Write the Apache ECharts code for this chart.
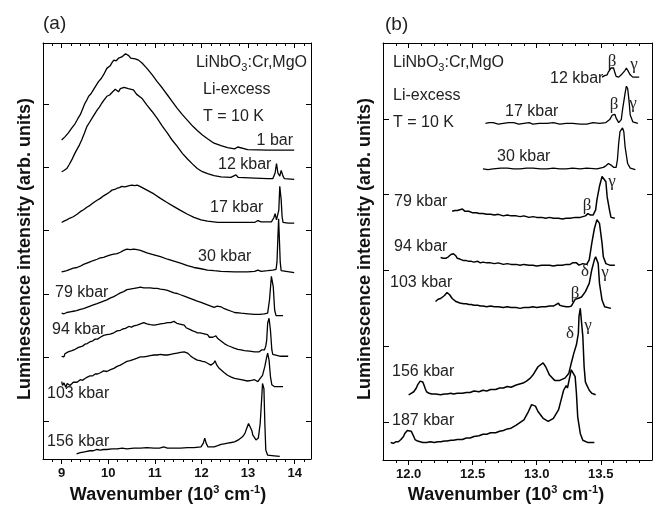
<!DOCTYPE html>
<html>
<head>
<meta charset="utf-8">
<script src="https://cdn.jsdelivr.net/npm/echarts@6/dist/echarts.min.js"></script>
<style>
  html, body { margin: 0; padding: 0; background: #fff; }
  #chart { width: 653px; height: 506px; }
</style>
</head>
<body>
<div id="chart"></div>
<script>
// ---------- Axis ticks ----------
const aMajorX = [9, 10, 11, 12, 13, 14];
const bMajorX = [12.0, 12.5, 13.0, 13.5];
const aTickY = [0.6, 1.6, 2.6, 3.6, 4.6, 5.6];
const bTickY = [0.5, 1.5, 2.5, 3.5, 4.5];

// ---------- Panel (a): broad-band spectra, [wavenumber (10^3 cm^-1), intensity] ----------
const a_1bar = [[9.00,5.03],[9.07,5.08],[9.14,5.14],[9.22,5.22],[9.29,5.29],[9.35,5.37],[9.40,5.43],[9.45,5.52],[9.50,5.61],[9.54,5.66],[9.58,5.72],[9.63,5.76],[9.68,5.82],[9.73,5.88],[9.79,5.95],[9.85,6.00],[9.90,6.06],[9.97,6.16],[10.04,6.20],[10.08,6.25],[10.12,6.29],[10.17,6.28],[10.22,6.32],[10.29,6.34],[10.33,6.35],[10.37,6.39],[10.41,6.37],[10.44,6.36],[10.48,6.32],[10.51,6.30],[10.58,6.31],[10.65,6.29],[10.73,6.24],[10.83,6.16],[10.94,6.06],[11.05,5.95],[11.16,5.85],[11.27,5.74],[11.37,5.64],[11.48,5.53],[11.59,5.43],[11.70,5.34],[11.81,5.25],[11.91,5.18],[12.02,5.11],[12.13,5.05],[12.27,4.98],[12.42,4.94],[12.56,4.91],[12.71,4.89],[12.78,4.92],[12.81,4.89],[12.99,4.88],[13.42,4.87],[13.99,4.87]];
const a_12kbar = [[9.00,4.53],[9.05,4.55],[9.11,4.58],[9.16,4.64],[9.22,4.72],[9.27,4.80],[9.32,4.87],[9.38,4.95],[9.43,5.03],[9.49,5.14],[9.54,5.24],[9.60,5.31],[9.65,5.37],[9.70,5.43],[9.76,5.50],[9.81,5.55],[9.86,5.61],[9.92,5.67],[9.97,5.72],[10.03,5.74],[10.08,5.78],[10.12,5.80],[10.15,5.83],[10.19,5.81],[10.22,5.79],[10.26,5.84],[10.29,5.86],[10.34,5.86],[10.38,5.88],[10.43,5.84],[10.47,5.81],[10.54,5.82],[10.61,5.75],[10.72,5.69],[10.83,5.58],[10.94,5.48],[11.05,5.37],[11.16,5.25],[11.27,5.14],[11.37,5.03],[11.48,4.93],[11.59,4.82],[11.70,4.73],[11.81,4.65],[11.91,4.58],[12.02,4.53],[12.13,4.50],[12.27,4.47],[12.42,4.45],[12.63,4.44],[12.74,4.48],[12.79,4.44],[13.14,4.43],[13.42,4.42],[13.53,4.42],[13.56,4.45],[13.58,4.51],[13.61,4.66],[13.64,4.51],[13.68,4.46],[13.71,4.55],[13.75,4.46],[13.78,4.42],[13.99,4.41]];
const a_17kbar = [[9.00,3.73],[9.05,3.75],[9.11,3.77],[9.18,3.80],[9.25,3.82],[9.33,3.86],[9.40,3.90],[9.47,3.93],[9.54,3.97],[9.61,4.00],[9.68,4.04],[9.76,4.08],[9.83,4.11],[9.90,4.15],[9.97,4.18],[10.03,4.21],[10.08,4.24],[10.14,4.25],[10.19,4.27],[10.24,4.28],[10.29,4.30],[10.35,4.29],[10.40,4.30],[10.45,4.31],[10.51,4.32],[10.57,4.31],[10.62,4.32],[10.68,4.30],[10.73,4.28],[10.83,4.24],[10.98,4.18],[11.12,4.11],[11.27,4.04],[11.41,3.98],[11.55,3.92],[11.70,3.86],[11.84,3.81],[11.99,3.77],[12.13,3.75],[12.35,3.73],[12.67,3.73],[12.71,3.76],[12.74,3.73],[13.14,3.73],[13.21,3.76],[13.28,3.74],[13.50,3.74],[13.55,3.80],[13.58,3.87],[13.61,3.77],[13.64,3.74],[13.66,3.93],[13.68,4.30],[13.70,4.32],[13.71,4.09],[13.73,3.82],[13.75,3.73],[13.86,3.72],[13.99,3.72]];
const a_30kbar = [[9.00,2.95],[9.05,2.96],[9.11,2.97],[9.18,2.99],[9.25,3.01],[9.33,3.02],[9.40,3.04],[9.47,3.07],[9.54,3.09],[9.61,3.11],[9.68,3.13],[9.76,3.15],[9.83,3.17],[9.90,3.18],[9.97,3.20],[10.05,3.22],[10.12,3.23],[10.19,3.24],[10.26,3.26],[10.33,3.29],[10.40,3.31],[10.47,3.30],[10.55,3.31],[10.62,3.30],[10.69,3.29],[10.76,3.27],[10.83,3.25],[10.98,3.22],[11.12,3.19],[11.27,3.15],[11.41,3.12],[11.55,3.09],[11.70,3.05],[11.84,3.02],[11.99,3.00],[12.13,2.98],[12.27,2.97],[12.42,2.96],[12.71,2.95],[12.99,2.95],[13.14,2.96],[13.21,2.98],[13.28,2.96],[13.42,2.97],[13.53,2.98],[13.57,3.01],[13.60,2.99],[13.62,3.10],[13.64,3.50],[13.655,3.79],[13.67,3.50],[13.69,3.10],[13.71,2.97],[13.75,2.94],[13.99,2.94]];
const a_79kbar = [[9.00,2.30],[9.05,2.29],[9.11,2.31],[9.18,2.32],[9.25,2.33],[9.32,2.34],[9.40,2.36],[9.47,2.37],[9.54,2.39],[9.61,2.41],[9.68,2.43],[9.76,2.45],[9.83,2.47],[9.90,2.49],[9.97,2.51],[10.05,2.54],[10.12,2.56],[10.19,2.59],[10.26,2.62],[10.33,2.64],[10.40,2.67],[10.47,2.68],[10.55,2.69],[10.62,2.70],[10.69,2.71],[10.76,2.70],[10.83,2.70],[10.90,2.70],[10.98,2.69],[11.05,2.69],[11.12,2.68],[11.20,2.67],[11.27,2.66],[11.34,2.64],[11.41,2.62],[11.48,2.61],[11.55,2.59],[11.63,2.57],[11.70,2.55],[11.77,2.53],[11.84,2.51],[11.91,2.49],[11.99,2.47],[12.06,2.45],[12.13,2.43],[12.20,2.41],[12.27,2.39],[12.34,2.41],[12.38,2.43],[12.42,2.40],[12.49,2.37],[12.56,2.35],[12.64,2.33],[12.71,2.31],[12.85,2.30],[13.00,2.29],[13.14,2.28],[13.25,2.28],[13.35,2.29],[13.39,2.32],[13.42,2.30],[13.46,2.51],[13.50,2.88],[13.52,2.90],[13.54,2.72],[13.57,2.35],[13.60,2.26],[13.75,2.26]];
const a_94kbar = [[9.00,1.62],[9.03,1.65],[9.05,1.61],[9.07,1.66],[9.11,1.65],[9.14,1.69],[9.18,1.68],[9.22,1.71],[9.25,1.70],[9.29,1.73],[9.33,1.72],[9.36,1.76],[9.40,1.77],[9.45,1.78],[9.50,1.81],[9.55,1.82],[9.61,1.85],[9.66,1.86],[9.72,1.89],[9.77,1.89],[9.83,1.92],[9.90,1.95],[9.97,1.96],[10.04,1.97],[10.12,1.99],[10.19,2.02],[10.26,2.03],[10.31,2.05],[10.37,2.06],[10.44,2.09],[10.50,2.08],[10.55,2.10],[10.62,2.11],[10.69,2.13],[10.76,2.15],[10.83,2.13],[10.90,2.12],[10.98,2.11],[11.05,2.12],[11.12,2.13],[11.20,2.14],[11.27,2.15],[11.34,2.15],[11.41,2.17],[11.47,2.14],[11.52,2.13],[11.58,2.12],[11.63,2.11],[11.67,2.07],[11.70,2.06],[11.76,2.04],[11.81,2.02],[11.86,2.01],[11.91,1.99],[11.97,1.99],[12.02,1.98],[12.08,1.97],[12.13,1.96],[12.17,1.92],[12.20,1.90],[12.24,1.92],[12.27,1.93],[12.31,1.94],[12.35,1.90],[12.38,1.88],[12.44,1.85],[12.49,1.82],[12.56,1.79],[12.63,1.77],[12.70,1.75],[12.78,1.73],[12.85,1.72],[12.92,1.71],[13.03,1.70],[13.14,1.69],[13.24,1.69],[13.29,1.72],[13.32,1.74],[13.35,1.72],[13.38,1.78],[13.40,1.88],[13.42,2.14],[13.45,2.22],[13.48,2.03],[13.51,1.72],[13.53,1.65],[13.55,1.62],[13.70,1.62],[13.86,1.62]];
const a_103kbar = [[9.00,1.22],[9.02,1.16],[9.04,1.15],[9.05,1.20],[9.07,1.19],[9.09,1.13],[9.11,1.14],[9.12,1.19],[9.14,1.20],[9.18,1.16],[9.22,1.18],[9.25,1.21],[9.29,1.22],[9.33,1.21],[9.36,1.24],[9.40,1.25],[9.45,1.24],[9.50,1.27],[9.55,1.29],[9.61,1.31],[9.66,1.31],[9.72,1.34],[9.77,1.34],[9.83,1.36],[9.87,1.35],[9.90,1.39],[9.93,1.37],[9.97,1.38],[10.05,1.41],[10.12,1.43],[10.19,1.46],[10.26,1.48],[10.33,1.51],[10.40,1.54],[10.47,1.55],[10.55,1.57],[10.62,1.59],[10.69,1.61],[10.76,1.61],[10.83,1.62],[10.90,1.63],[10.98,1.64],[11.05,1.64],[11.12,1.65],[11.20,1.64],[11.27,1.64],[11.34,1.65],[11.41,1.66],[11.48,1.67],[11.55,1.68],[11.63,1.69],[11.70,1.67],[11.76,1.63],[11.81,1.60],[11.86,1.58],[11.91,1.56],[11.97,1.55],[12.02,1.54],[12.08,1.53],[12.13,1.51],[12.20,1.48],[12.26,1.51],[12.29,1.55],[12.33,1.48],[12.38,1.43],[12.42,1.40],[12.49,1.36],[12.56,1.32],[12.64,1.29],[12.71,1.27],[12.85,1.25],[12.99,1.23],[13.07,1.24],[13.14,1.25],[13.21,1.22],[13.26,1.27],[13.31,1.32],[13.36,1.46],[13.40,1.61],[13.42,1.67],[13.45,1.56],[13.48,1.30],[13.51,1.17],[13.57,1.14],[13.75,1.14]];
const a_156kbar = [[9.32,0.08],[9.36,0.10],[9.40,0.10],[9.44,0.12],[9.47,0.11],[9.51,0.13],[9.54,0.12],[9.61,0.13],[9.68,0.13],[9.76,0.15],[9.83,0.14],[9.90,0.15],[9.97,0.15],[10.08,0.16],[10.19,0.16],[10.30,0.17],[10.40,0.16],[10.55,0.17],[10.69,0.17],[10.83,0.18],[10.98,0.17],[11.10,0.17],[11.19,0.19],[11.27,0.17],[11.41,0.17],[11.55,0.17],[11.70,0.18],[11.84,0.18],[11.99,0.19],[12.04,0.25],[12.07,0.33],[12.10,0.25],[12.14,0.19],[12.27,0.19],[12.35,0.21],[12.42,0.23],[12.49,0.24],[12.56,0.25],[12.64,0.26],[12.71,0.27],[12.81,0.31],[12.88,0.35],[12.93,0.40],[12.96,0.46],[13.01,0.56],[13.05,0.54],[13.08,0.45],[13.10,0.38],[13.17,0.30],[13.22,0.33],[13.26,0.56],[13.29,0.93],[13.31,1.19],[13.34,1.11],[13.36,0.56],[13.38,0.14],[13.42,0.06],[13.56,0.05],[13.68,0.04]];

// ---------- Panel (b): sharp-line region ----------
const b_12kbar = [[13.51,5.05],[13.53,5.07],[13.55,5.08],[13.56,5.12],[13.58,5.17],[13.59,5.19],[13.60,5.17],[13.61,5.11],[13.62,5.06],[13.64,5.05],[13.66,5.08],[13.69,5.14],[13.70,5.17],[13.71,5.14],[13.73,5.08],[13.75,5.05],[13.80,5.05]];
const b_17kbar = [[12.60,4.44],[12.63,4.45],[12.66,4.45],[12.70,4.43],[12.74,4.44],[12.78,4.45],[12.82,4.45],[12.86,4.43],[12.90,4.44],[12.94,4.45],[12.97,4.43],[13.02,4.44],[13.08,4.44],[13.13,4.45],[13.18,4.43],[13.23,4.44],[13.28,4.44],[13.34,4.43],[13.39,4.43],[13.44,4.45],[13.49,4.44],[13.54,4.45],[13.57,4.49],[13.59,4.55],[13.61,4.56],[13.62,4.51],[13.64,4.45],[13.65,4.44],[13.66,4.49],[13.67,4.62],[13.69,4.84],[13.70,4.93],[13.71,4.90],[13.72,4.75],[13.73,4.55],[13.75,4.46],[13.77,4.45],[13.79,4.44]];
const b_30kbar = [[12.58,3.84],[12.62,3.83],[12.66,3.84],[12.72,3.85],[12.77,3.85],[12.82,3.84],[12.87,3.84],[12.92,3.85],[12.97,3.85],[13.03,3.84],[13.08,3.84],[13.13,3.85],[13.18,3.84],[13.23,3.84],[13.28,3.85],[13.34,3.84],[13.39,3.85],[13.47,3.84],[13.52,3.86],[13.54,3.88],[13.56,3.91],[13.58,3.89],[13.60,3.86],[13.62,3.86],[13.63,3.96],[13.64,4.18],[13.65,4.33],[13.67,4.38],[13.68,4.33],[13.69,4.13],[13.71,3.91],[13.73,3.85],[13.77,3.83]];
const b_79kbar = [[12.34,3.28],[12.35,3.29],[12.36,3.29],[12.37,3.30],[12.38,3.29],[12.39,3.30],[12.40,3.30],[12.41,3.31],[12.42,3.31],[12.43,3.29],[12.44,3.28],[12.45,3.27],[12.47,3.28],[12.48,3.26],[12.50,3.26],[12.51,3.25],[12.53,3.26],[12.55,3.25],[12.58,3.25],[12.61,3.24],[12.64,3.24],[12.67,3.23],[12.70,3.24],[12.74,3.22],[12.77,3.23],[12.80,3.22],[12.84,3.22],[12.87,3.21],[12.90,3.22],[12.94,3.20],[12.97,3.21],[13.00,3.20],[13.04,3.20],[13.07,3.19],[13.10,3.20],[13.13,3.19],[13.17,3.19],[13.20,3.18],[13.23,3.19],[13.26,3.19],[13.30,3.20],[13.34,3.20],[13.38,3.22],[13.40,3.25],[13.42,3.23],[13.44,3.23],[13.46,3.30],[13.47,3.43],[13.49,3.61],[13.51,3.74],[13.52,3.76],[13.54,3.67],[13.55,3.47],[13.57,3.28],[13.58,3.20],[13.61,3.19]];
const b_94kbar = [[12.25,2.67],[12.27,2.66],[12.29,2.66],[12.30,2.68],[12.31,2.68],[12.33,2.71],[12.34,2.73],[12.35,2.72],[12.36,2.72],[12.37,2.69],[12.38,2.66],[12.40,2.65],[12.43,2.63],[12.45,2.63],[12.47,2.62],[12.49,2.62],[12.51,2.61],[12.54,2.62],[12.56,2.60],[12.58,2.61],[12.61,2.60],[12.64,2.60],[12.67,2.59],[12.70,2.60],[12.74,2.58],[12.77,2.59],[12.80,2.58],[12.84,2.58],[12.87,2.57],[12.90,2.58],[12.94,2.57],[12.97,2.57],[13.00,2.56],[13.04,2.57],[13.07,2.57],[13.10,2.57],[13.13,2.56],[13.16,2.57],[13.20,2.57],[13.23,2.58],[13.26,2.58],[13.28,2.60],[13.31,2.60],[13.33,2.57],[13.36,2.59],[13.39,2.58],[13.41,2.64],[13.43,2.86],[13.45,3.05],[13.47,3.17],[13.48,3.19],[13.49,3.12],[13.51,2.86],[13.52,2.68],[13.54,2.59],[13.57,2.57],[13.61,2.57]];
const b_103kbar = [[12.21,2.09],[12.22,2.11],[12.23,2.12],[12.25,2.13],[12.26,2.15],[12.28,2.17],[12.29,2.19],[12.30,2.21],[12.31,2.20],[12.32,2.18],[12.33,2.16],[12.34,2.13],[12.35,2.11],[12.37,2.09],[12.38,2.08],[12.40,2.07],[12.43,2.06],[12.45,2.06],[12.47,2.05],[12.49,2.05],[12.51,2.04],[12.54,2.04],[12.56,2.03],[12.58,2.03],[12.61,2.02],[12.64,2.03],[12.67,2.02],[12.70,2.02],[12.74,2.01],[12.77,2.02],[12.80,2.01],[12.84,2.01],[12.87,2.00],[12.90,2.01],[12.94,2.01],[12.97,2.02],[13.00,2.01],[13.04,2.02],[13.07,2.02],[13.10,2.03],[13.13,2.03],[13.15,2.05],[13.17,2.07],[13.18,2.04],[13.20,2.03],[13.23,2.02],[13.25,2.02],[13.27,2.03],[13.30,2.12],[13.32,2.13],[13.35,2.15],[13.38,2.22],[13.41,2.33],[13.43,2.51],[13.45,2.64],[13.46,2.68],[13.48,2.59],[13.49,2.33],[13.51,2.11],[13.53,2.02],[13.58,2.00]];
const b_156kbar = [[12.00,0.86],[12.02,0.88],[12.04,0.90],[12.06,0.95],[12.07,0.99],[12.09,1.04],[12.10,1.06],[12.11,1.03],[12.12,0.99],[12.13,0.94],[12.14,0.90],[12.16,0.88],[12.18,0.87],[12.21,0.87],[12.25,0.86],[12.28,0.87],[12.30,0.87],[12.33,0.88],[12.35,0.87],[12.38,0.88],[12.42,0.88],[12.45,0.89],[12.48,0.89],[12.51,0.91],[12.55,0.90],[12.58,0.92],[12.61,0.91],[12.64,0.93],[12.68,0.93],[12.71,0.95],[12.74,0.95],[12.77,0.97],[12.80,0.96],[12.84,0.99],[12.88,1.01],[12.90,1.02],[12.92,1.04],[12.95,1.08],[12.97,1.12],[13.01,1.23],[13.05,1.28],[13.07,1.23],[13.10,1.12],[13.14,1.05],[13.18,1.05],[13.22,1.08],[13.25,1.14],[13.27,1.28],[13.29,1.41],[13.31,1.52],[13.32,1.54],[13.325,1.67],[13.33,1.89],[13.34,2.00],[13.35,1.98],[13.36,1.63],[13.37,1.23],[13.38,1.03],[13.39,0.99],[13.41,0.92],[13.43,0.88],[13.46,0.86]];
const b_187kbar = [[11.86,0.23],[11.88,0.22],[11.90,0.24],[11.92,0.24],[11.94,0.27],[11.96,0.31],[11.97,0.35],[11.99,0.39],[12.00,0.40],[12.02,0.38],[12.03,0.36],[12.04,0.31],[12.05,0.27],[12.07,0.25],[12.08,0.24],[12.11,0.23],[12.14,0.23],[12.17,0.24],[12.20,0.23],[12.23,0.24],[12.25,0.24],[12.28,0.25],[12.30,0.25],[12.33,0.26],[12.35,0.26],[12.38,0.27],[12.42,0.27],[12.45,0.29],[12.48,0.29],[12.51,0.31],[12.55,0.32],[12.58,0.34],[12.61,0.34],[12.64,0.36],[12.68,0.36],[12.71,0.38],[12.74,0.39],[12.77,0.41],[12.80,0.42],[12.84,0.46],[12.90,0.53],[12.93,0.62],[12.96,0.73],[12.99,0.71],[13.01,0.64],[13.05,0.55],[13.09,0.51],[13.13,0.55],[13.17,0.66],[13.19,0.79],[13.21,0.92],[13.23,0.98],[13.24,0.95],[13.25,1.03],[13.27,1.19],[13.28,1.21],[13.30,1.10],[13.31,0.88],[13.32,0.57],[13.34,0.35],[13.36,0.26],[13.40,0.23],[13.45,0.23]];

const aSpectra = [a_1bar, a_12kbar, a_17kbar, a_30kbar, a_79kbar, a_94kbar, a_103kbar, a_156kbar];
const bSpectra = [b_12kbar, b_17kbar, b_30kbar, b_79kbar, b_94kbar, b_103kbar, b_156kbar, b_187kbar];

// ---------- Layout ----------
const SANS = "'Liberation Sans', Arial, Helvetica, sans-serif";
const SERIF = "'Liberation Serif', 'Times New Roman', serif";
const A = { xmin: 8.6, xmax: 14.35, ymax: 6.56 };
const B = { xmin: 11.8, xmax: 13.9, ymax: 5.5 };

function minorTicks(lo, hi, step, majors) {
  const out = [];
  const n = Math.round((hi - lo) / step);
  for (let i = 0; i <= n; i++) {
    const v = +(lo + i * step).toFixed(3);
    if (!majors.some(m => Math.abs(m - v) < 1e-6)) out.push(v);
  }
  return out;
}
const aMinorX = minorTicks(8.8, 14.2, 0.2, aMajorX);
const bMinorX = minorTicks(11.9, 13.8, 0.1, bMajorX);

const black = { color: '#000', width: 1 };

function xAxisSet(grid, P, majors, minors, fmt) {
  const base = { gridIndex: grid, type: 'value', min: P.xmin, max: P.xmax, splitLine: { show: false } };
  return [
    Object.assign({}, base, {
      position: 'bottom',
      axisLine: { show: true, onZero: false, lineStyle: black },
      axisTick: { show: true, inside: false, length: 5, customValues: majors, lineStyle: black },
      axisLabel: { show: true, customValues: majors, formatter: fmt, margin: 8,
        fontFamily: SANS, fontWeight: 'bold', fontSize: 13, color: '#111' }
    }),
    Object.assign({}, base, {
      position: 'bottom',
      axisLine: { show: false, onZero: false },
      axisTick: { show: true, inside: false, length: 3, customValues: minors, lineStyle: black },
      axisLabel: { show: false }
    }),
    Object.assign({}, base, {
      position: 'top',
      axisLine: { show: true, onZero: false, lineStyle: black },
      axisTick: { show: true, inside: true, length: 5, customValues: majors, lineStyle: black },
      axisLabel: { show: false }
    }),
    Object.assign({}, base, {
      position: 'top',
      axisLine: { show: false, onZero: false },
      axisTick: { show: true, inside: true, length: 3, customValues: minors, lineStyle: black },
      axisLabel: { show: false }
    })
  ];
}

function yAxisSet(grid, P, ticks) {
  const base = { gridIndex: grid, type: 'value', min: 0, max: P.ymax, splitLine: { show: false },
    axisLabel: { show: false } };
  return [
    Object.assign({}, base, {
      position: 'left',
      axisLine: { show: true, onZero: false, lineStyle: black },
      axisTick: { show: true, inside: true, length: 6, customValues: ticks, lineStyle: black }
    }),
    Object.assign({}, base, {
      position: 'right',
      axisLine: { show: true, onZero: false, lineStyle: black },
      axisTick: { show: true, inside: true, length: 5, customValues: ticks, lineStyle: black }
    })
  ];
}

function spectrum(data, xi, yi, w) {
  return {
    type: 'line', data: data, xAxisIndex: xi, yAxisIndex: yi,
    symbol: 'none', showSymbol: false, smooth: false, silent: true,
    lineStyle: { color: '#000', width: w }
  };
}

// ---------- Text ----------
function txt(x, y, s, opt) {
  return {
    type: 'text', x: x, y: y, silent: true,
    style: Object.assign({ text: s, fontFamily: SANS, fontSize: 16, fill: '#222',
      align: 'left', verticalAlign: 'middle' }, opt || {})
  };
}
function greek(x, y, s) {
  return txt(x, y, s, { fontFamily: SERIF, fontSize: 17, align: 'center' });
}
const formulaRich = {
  m: { fontFamily: SANS, fontSize: 16, lineHeight: 20, fill: '#222', verticalAlign: 'middle' },
  s: { fontFamily: SANS, fontSize: 11, lineHeight: 11, fill: '#222', verticalAlign: 'bottom' }
};
function formula(x, y, align) {
  return txt(x, y, '{m|LiNbO}{s|3}{m|:Cr,MgO}', { rich: formulaRich, align: align });
}
const titleRich = {
  t: { fontFamily: SANS, fontSize: 18, fontWeight: 'bold', lineHeight: 22, fill: '#111', verticalAlign: 'middle' },
  p: { fontFamily: SANS, fontSize: 11, fontWeight: 'bold', lineHeight: 11, fill: '#111', verticalAlign: 'top' }
};
function xTitle(cx) {
  return txt(cx, 495, '{t|Wavenumber (10}{p|3}{t| cm}{p|-1}{t|)}', { rich: titleRich, align: 'center' });
}
function yTitle(cx) {
  const t = txt(cx, 249, 'Luminescence intensity (arb. units)', {
    fontSize: 18, fontWeight: 'bold', align: 'center', fill: '#111' });
  t.rotation = Math.PI / 2;
  return t;
}

const graphics = [
  txt(43, 24, '(a)', { fontSize: 19 }),
  txt(385, 25, '(b)', { fontSize: 19 }),
  xTitle(168), xTitle(506),
  yTitle(25), yTitle(365),

  // panel (a) annotations
  formula(307, 63, 'right'),
  txt(203, 90, 'Li-excess'),
  txt(203, 117, 'T = 10 K'),
  txt(293, 141, '1 bar', { align: 'right' }),
  txt(218, 165, '12 kbar'),
  txt(210, 208, '17 kbar'),
  txt(198, 257, '30 kbar'),
  txt(55, 293, '79 kbar'),
  txt(52, 330, '94 kbar'),
  txt(47, 394, '103 kbar'),
  txt(47, 442, '156 kbar'),

  // panel (b) annotations
  formula(393, 63, 'left'),
  txt(393, 96, 'Li-excess'),
  txt(393, 123, 'T = 10 K'),
  txt(550, 79, '12 kbar'),
  txt(505, 112, '17 kbar'),
  txt(497, 157, '30 kbar'),
  txt(394, 202, '79 kbar'),
  txt(394, 247, '94 kbar'),
  txt(390, 283, '103 kbar'),
  txt(392, 372, '156 kbar'),
  txt(392, 421, '187 kbar'),
  greek(612, 62, 'β'), greek(634, 65, 'γ'),
  greek(614, 105, 'β'), greek(633, 104, 'γ'),
  greek(587, 206, 'β'), greek(612, 182, 'γ'),
  greek(585, 272, 'δ'), greek(605, 273, 'γ'), greek(575, 294, 'β'),
  greek(570, 334, 'δ'), greek(588, 326, 'γ')
];

// ---------- Chart ----------
const chart = echarts.init(document.getElementById('chart'), null, { renderer: 'canvas' });
const xAxes = xAxisSet(0, A, aMajorX, aMinorX, v => String(Math.round(v)))
  .concat(xAxisSet(1, B, bMajorX, bMinorX, v => v.toFixed(1)));
const yAxes = yAxisSet(0, A, aTickY).concat(yAxisSet(1, B, bTickY));

const series = aSpectra.map(d => spectrum(d, 0, 0, 1.3))
  .concat(bSpectra.map((d, i) => spectrum(d, 4, 2, i < 3 ? 1.3 : 1.5)));

chart.setOption({
  animation: false,
  backgroundColor: '#fff',
  grid: [
    { left: 43, top: 43, width: 268, height: 416, show: false },
    { left: 383, top: 43, width: 269, height: 417, show: false }
  ],
  xAxis: xAxes,
  yAxis: yAxes,
  series: series,
  graphic: graphics
});
</script>
</body>
</html>
